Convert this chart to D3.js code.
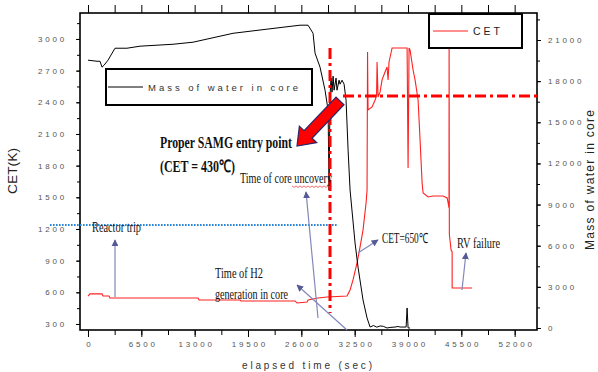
<!DOCTYPE html>
<html>
<head>
<meta charset="utf-8">
<script src="https://cdn.jsdelivr.net/npm/d3@7"></script>
<style>
  body { margin: 0; background: #fff; }
  svg { display: block; }
</style>
</head>
<body>
<div id="app"></div>
<script>
// tick values
const timeTicks = [0, 6500, 13000, 19500, 26000, 32500, 39000, 45500, 52000];
const cetTicks = [300, 600, 900, 1200, 1500, 1800, 2100, 2400, 2700, 3000];
const massTicks = [0, 3000, 6000, 9000, 12000, 15000, 18000, 21000];

// Mass of water in core (right axis, kg) vs elapsed time (sec)
const massTime = [0, 1100, 1460, 1710, 1950, 2440, 3290, 4750, 6340, 10360, 12800, 17680, 21820, 25840, 26820,
  27430, 27670, 28280, 28890, 29260, 29380, 29500, 29620, 29740, 29870, 29990, 30230, 30350, 30600, 30720,
  30960, 31210, 31450, 31700, 31940, 32550, 32910, 33520, 34010, 34380, 34800, 35200, 35600, 36000, 36450,
  36800, 37420, 37800, 38030, 38770, 38890, 39010, 39250];
const massValue = [19530, 19450, 19450, 19020, 19160, 19530, 20400, 20400, 20550, 20690, 20840, 21490, 21790, 22080, 22080,
  21490, 20040, 19020, 17340, 15880, 10060, 16980, 18220, 17200, 18360, 17340, 18220, 17340, 18070, 17780,
  18070, 17780, 16610, 12970, 10060, 6190, 4440, 2040, 730, 70, 180, 60, 150, 120, 0,
  40, 70, 110, 70, 70, 1460, 0, 0];

// CET (left axis, K) vs elapsed time (sec)
const cetTime = [0, 240, 1710, 1830, 2560, 2680, 13410, 13530, 18530, 18650, 25230, 25480, 26700, 26820, 28040,
  29130, 31570, 31940, 32300, 32790, 33160, 33520, 33890, 34010, 34070, 34130, 34620, 34990, 35170, 35230,
  35350, 35600, 35840, 36200, 36450, 36570, 36690, 37060, 38890, 39010, 39130, 39250, 39620, 39860, 40230,
  40470, 40720, 40840, 41450, 42060, 43280, 43770, 43890, 44000, 44010, 44040, 44250, 44380, 44380, 46810];
const cetValue = [565, 585, 585, 565, 565, 546, 546, 527, 527, 518, 518, 499, 508, 527, 546,
  556, 565, 622, 717, 878, 1030, 1191, 1446, 1569, 2877, 2327, 2356, 2422, 2460, 2782,
  2451, 2498, 2612, 2687, 2735, 2612, 2782, 2915, 2915, 1778, 2915, 2896, 2706, 2612, 2422,
  2043, 1636, 1541, 1503, 1513, 1513, 1494, 1446, 1400, 3100, 1150, 1001, 982, 641, 641];

// reference lines
const tripLevel = 1238;          // blue dotted, K
const tripFrom = -4630, tripTo = 30470;
const samgTime = 29494;          // red dash-dot vertical
const samgFrom = 404, samgTo = 2915;
const samgLevel = 2460;          // red dash-dot horizontal
const samgLevelFrom = 31080;

const W = 598, H = 372;
const plot = { left: 80, right: 537, top: 13, bottom: 330 };

const svg = d3.select('#app')
  .append('svg')
  .attr('width', W)
  .attr('height', H)
  .attr('font-family', 'Liberation Sans, Arial, sans-serif');

const x = d3.scaleLinear().domain([-975, 54722]).range([plot.left, plot.right]);
const yL = d3.scaleLinear().domain([243, 3246]).range([plot.bottom, plot.top]);
const yR = d3.scaleLinear().domain([-146, 22969]).range([plot.bottom, plot.top]);

const styleAxis = g => {
  g.select('.domain').remove();
  g.selectAll('line').attr('stroke', '#000').attr('stroke-width', 1);
  g.selectAll('text')
    .attr('font-family', 'Liberation Sans, Arial, sans-serif')
    .attr('font-size', 8)
    .attr('fill', '#555')
    .style('letter-spacing', '2.8px');
};

// minor ticks
const timeMinor = d3.range(0, 55000, 3250);
const cetMinor = d3.range(300, 3200, 150);
const massMinor = d3.range(0, 22600, 1500);

svg.append('g').attr('transform', `translate(0,${plot.bottom})`)
  .call(d3.axisBottom(x).tickValues(timeMinor).tickSize(5).tickFormat('')).call(styleAxis);
svg.append('g').attr('transform', `translate(0,${plot.bottom})`)
  .call(d3.axisBottom(x).tickValues(timeTicks).tickSize(7).tickPadding(4).tickFormat(d3.format('d')))
  .call(styleAxis)
  .selectAll('text').attr('dx', '1.4px');
svg.append('g').attr('transform', `translate(0,${plot.top})`)
  .call(d3.axisTop(x).tickValues(timeMinor).tickSize(8).tickFormat('')).call(styleAxis);

svg.append('g').attr('transform', `translate(${plot.left},0)`)
  .call(d3.axisLeft(yL).tickValues(cetMinor).tickSize(3).tickFormat('')).call(styleAxis);
svg.append('g').attr('transform', `translate(${plot.left},0)`)
  .call(d3.axisLeft(yL).tickValues(cetTicks).tickSize(4).tickPadding(9).tickFormat(d3.format('d')))
  .call(styleAxis);

svg.append('g').attr('transform', `translate(${plot.right},0)`)
  .call(d3.axisRight(yR).tickValues(massMinor).tickSize(3).tickFormat('')).call(styleAxis);
svg.append('g').attr('transform', `translate(${plot.right},0)`)
  .call(d3.axisRight(yR).tickValues(massTicks).tickSize(4).tickPadding(7).tickFormat(d3.format('d')))
  .call(styleAxis);

// frame
svg.append('rect')
  .attr('x', plot.left).attr('y', plot.top)
  .attr('width', plot.right - plot.left).attr('height', plot.bottom - plot.top)
  .attr('fill', 'none').attr('stroke', '#000').attr('stroke-width', 1.6);

// axis titles
svg.append('text')
  .attr('transform', 'translate(17,171) rotate(-90)')
  .attr('text-anchor', 'middle')
  .attr('font-size', 13).attr('fill', '#222')
  .attr('textLength', 46).attr('lengthAdjust', 'spacingAndGlyphs')
  .text('CET(K)');
svg.append('text')
  .attr('transform', 'translate(594,180) rotate(-90)')
  .attr('text-anchor', 'middle')
  .attr('font-size', 12).attr('fill', '#222')
  .attr('textLength', 140).attr('lengthAdjust', 'spacing')
  .text('Mass of water in core');
svg.append('text')
  .attr('x', 242).attr('y', 369)
  .attr('font-size', 10).attr('fill', '#333')
  .attr('textLength', 130).attr('lengthAdjust', 'spacing')
  .text('elapsed time (sec)');

// data lines
svg.append('clipPath').attr('id', 'plotclip')
  .append('rect').attr('x', plot.left).attr('y', plot.top)
  .attr('width', plot.right - plot.left).attr('height', plot.bottom - plot.top);

const massLine = d3.line().x((d, i) => x(massTime[i])).y(d => yR(d));
const cetLine = d3.line().x((d, i) => x(cetTime[i])).y(d => yL(d));

svg.append('path')
  .attr('d', cetLine(cetValue))
  .attr('clip-path', 'url(#plotclip)')
  .attr('fill', 'none').attr('stroke', '#ff2020').attr('stroke-width', 1.1);

svg.append('path')
  .attr('d', massLine(massValue))
  .attr('clip-path', 'url(#plotclip)')
  .attr('fill', 'none').attr('stroke', '#000').attr('stroke-width', 1);

// reference lines
svg.append('line')
  .attr('x1', x(tripFrom)).attr('x2', x(tripTo))
  .attr('y1', yL(tripLevel)).attr('y2', yL(tripLevel))
  .attr('stroke', '#2a86d8').attr('stroke-width', 2).attr('stroke-dasharray', '1.6,1.4');

const dashDot = '11,4,3,4';
svg.append('line')
  .attr('x1', x(samgTime)).attr('x2', x(samgTime))
  .attr('y1', yL(samgTo)).attr('y2', yL(samgFrom))
  .attr('stroke', '#f00').attr('stroke-width', 3).attr('stroke-dasharray', dashDot);
svg.append('line')
  .attr('x1', x(samgLevelFrom)).attr('x2', plot.right)
  .attr('y1', yL(samgLevel)).attr('y2', yL(samgLevel))
  .attr('stroke', '#f00').attr('stroke-width', 3).attr('stroke-dasharray', dashDot);

// annotation arrows
const defs = svg.append('defs');
defs.append('marker')
  .attr('id', 'head').attr('viewBox', '0 0 10 10')
  .attr('refX', 9).attr('refY', 5)
  .attr('markerWidth', 7).attr('markerHeight', 7)
  .attr('markerUnits', 'userSpaceOnUse')
  .attr('orient', 'auto')
  .append('path').attr('d', 'M0,0 L10,5 L0,10 z').attr('fill', '#555a96');

const pointers = [
  { from: [3290, 556], to: [3290, 1096] },     // reactor trip
  { from: [31566, 243], to: [25472, 669] },    // H2 generation
  { from: [28031, 357], to: [26569, 1551] },   // core uncovery
  { from: [32906, 973], to: [35344, 1096] },   // CET = 650
  { from: [45581, 622], to: [46069, 973] }     // RV failure
];
svg.selectAll('line.pointer')
  .data(pointers)
  .enter()
  .append('line')
  .attr('class', 'pointer')
  .attr('x1', d => x(d.from[0])).attr('y1', d => yL(d.from[1]))
  .attr('x2', d => x(d.to[0])).attr('y2', d => yL(d.to[1]))
  .attr('stroke', '#8388b8').attr('stroke-width', 1.2)
  .attr('marker-end', 'url(#head)');

// big red block arrow (tail -> tip)
const blockArrow = (x1, y1, x2, y2, bw, hw, hl) => {
  const dx = x2 - x1, dy = y2 - y1, L = Math.hypot(dx, dy);
  const ux = dx / L, uy = dy / L, px = -uy, py = ux;
  const bx = x2 - ux * hl, by = y2 - uy * hl;
  return [
    [x1 + px * bw, y1 + py * bw], [bx + px * bw, by + py * bw], [bx + px * hw, by + py * hw],
    [x2, y2], [bx - px * hw, by - py * hw], [bx - px * bw, by - py * bw], [x1 - px * bw, y1 - py * bw]
  ];
};
const samgArrow = { tail: [30712, 2413], tip: [25472, 1986] };
svg.append('polygon')
  .attr('points', blockArrow(x(samgArrow.tail[0]), yL(samgArrow.tail[1]),
    x(samgArrow.tip[0]), yL(samgArrow.tip[1]), 5.5, 12, 16).map(p => p.join(',')).join(' '))
  .attr('fill', '#f00').attr('stroke', '#26286a').attr('stroke-width', 1.2);

// annotation texts
const notes = [
  { t: 488, k: 1172, text: 'Reactor trip', size: 14, len: 49, bold: false },
  { t: 8775, k: 1967, text: 'Proper SAMG entry point', size: 17, len: 132, bold: true },
  { t: 8775, k: 1740, text: '(CET = 430\u2103)', size: 17, len: 75, bold: true },
  { t: 18525, k: 1636, text: 'Time of core uncovery', size: 14, len: 92, bold: false },
  { t: 15478, k: 736, text: 'Time of H2', size: 14, len: 48, bold: false },
  { t: 15478, k: 536, text: 'generation in core', size: 14, len: 73, bold: false },
  { t: 35831, k: 1067, text: 'CET=650\u2103', size: 14, len: 46, bold: false },
  { t: 44972, k: 1020, text: 'RV failure', size: 14, len: 43, bold: false }
];
svg.selectAll('text.note')
  .data(notes)
  .enter()
  .append('text')
  .attr('class', 'note')
  .attr('x', d => x(d.t)).attr('y', d => yL(d.k))
  .attr('font-family', 'Liberation Serif, Times New Roman, serif')
  .attr('font-size', d => d.size)
  .attr('font-weight', d => d.bold ? 'bold' : 'normal')
  .attr('fill', '#111')
  .attr('textLength', d => d.len).attr('lengthAdjust', 'spacingAndGlyphs')
  .text(d => d.text);

// spell-check squiggle under "uncovery"
const sq = d3.range(0, 21).map(i => [x(18525) + 52 + i * 2, yL(1636) + 3 + (i % 2) * 1.5]);
svg.append('path').attr('d', d3.line()(sq))
  .attr('fill', 'none').attr('stroke', '#f03030').attr('stroke-width', 0.7);

// legends
const legMass = svg.append('g').attr('transform', 'translate(106,69)');
legMass.append('rect').attr('width', 206).attr('height', 36)
  .attr('fill', '#fff').attr('stroke', '#000').attr('stroke-width', 2);
legMass.append('line').attr('x1', 2).attr('x2', 37).attr('y1', 18).attr('y2', 18)
  .attr('stroke', '#000').attr('stroke-width', 1);
legMass.append('text').attr('x', 42).attr('y', 21.5)
  .attr('font-size', 9.5).attr('fill', '#333')
  .attr('textLength', 150).attr('lengthAdjust', 'spacing')
  .text('Mass of water in core');

const legCet = svg.append('g').attr('transform', 'translate(429,14)');
legCet.append('rect').attr('width', 93).attr('height', 34)
  .attr('fill', '#fff').attr('stroke', '#000').attr('stroke-width', 2);
legCet.append('line').attr('x1', 4).attr('x2', 39).attr('y1', 17).attr('y2', 17)
  .attr('stroke', '#ff2020').attr('stroke-width', 1.1);
legCet.append('text').attr('x', 44).attr('y', 21)
  .attr('font-size', 10.5).attr('fill', '#222')
  .attr('textLength', 27).attr('lengthAdjust', 'spacing')
  .text('CET');
</script>
</body>
</html>
